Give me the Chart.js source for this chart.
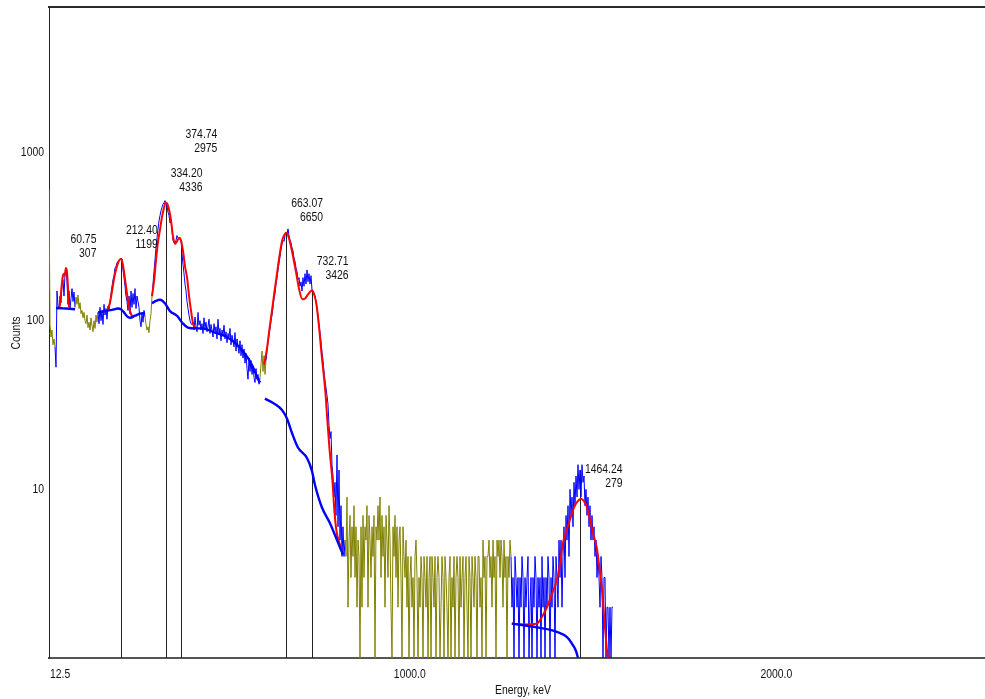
<!DOCTYPE html>
<html>
<head>
<meta charset="utf-8">
<title>Gamma spectrum</title>
<script src="https://cdn.jsdelivr.net/npm/chart.js@4.4.1/dist/chart.umd.min.js"></script>
<style>
  html, body { margin: 0; padding: 0; background: #ffffff; }
  #wrap { width: 985px; height: 699px; }
</style>
</head>
<body>
<div id="wrap"><canvas id="spectrum" width="985" height="699"></canvas></div>
<script>
// ---- energy calibration of the channel list ----
const FIRST_KEV = 16;
const KEV_PER_CH = 2.7276;

// ---- counts per channel, starting at FIRST_KEV ----
const counts = [
  600, 95, 80, 88, 72, 78, 70, 53, 150, 122,
  118, 140, 128, 165, 175, 140, 190, 205, 170, 125,
  150, 118, 135, 155, 130, 148, 120, 138, 125, 142,
  118, 128, 110, 115, 104, 112, 100, 96, 108, 91,
  98, 88, 104, 93, 86, 100, 90, 108, 98, 112,
  96, 120, 100, 115, 95, 125, 108, 118, 102, 122,
  115, 130, 145, 160, 175, 185, 205, 210, 220, 225,
  225, 230, 235, 232, 200, 180, 160, 140, 130, 115,
  140, 110, 150, 120, 145, 125, 155, 118, 140, 130,
  120, 100, 92, 110, 98, 115, 105, 95, 88, 92,
  85, 100, 110, 140, 165, 195, 230, 270, 310, 350,
  390, 420, 450, 470, 490, 500, 515, 500, 480, 440,
  420, 380, 400, 340, 300, 290, 285, 300, 320, 310,
  305, 305, 300, 250, 215, 190, 165, 150, 130, 118,
  108, 100, 96, 95, 98, 88, 105, 92, 86, 112,
  94, 100, 88, 96, 84, 104, 90, 98, 86, 92,
  102, 84, 95, 88, 80, 96, 86, 92, 78, 102,
  84, 90, 76, 88, 82, 94, 78, 86, 74, 84,
  80, 90, 72, 82, 76, 70, 85, 66, 78, 70,
  64, 76, 62, 72, 60, 68, 56, 64, 52, 45,
  60, 50, 58, 48, 54, 46, 43, 52, 45, 48,
  42, 46, 55, 66, 50, 62, 48, 58, 66, 75,
  82, 90, 100, 108, 120, 135, 145, 165, 180, 200,
  220, 240, 265, 285, 300, 295, 320, 335, 325, 350,
  320, 300, 290, 270, 260, 235, 225, 205, 195, 175,
  180, 160, 170, 150, 180, 160, 190, 165, 200, 170,
  190, 165, 185, 152, 150, 145, 140, 130, 118, 108,
  95, 85, 75, 65, 58, 50, 44, 40, 36, 32,
  24, 20, 22, 14, 12, 9, 11, 7, 16, 6,
  13, 5, 8, 4, 6, 4, 5, 4, 9, 2,
  5, 7, 3, 6, 4, 8, 3, 6, 2, 5,
  4, 1, 6, 2, 7, 3, 6, 5, 8, 2,
  7, 5, 3, 6, 4, 7, 1, 6, 5, 8,
  5, 9, 3, 7, 4, 6, 2, 7, 5, 3,
  8, 5, 2, 1, 6, 4, 7, 3, 6, 2,
  5, 6, 3, 1, 6, 4, 3, 5, 2, 4,
  1, 3, 4, 2, 3, 1, 4, 5, 3, 1,
  3, 2, 4, 3, 1, 4, 3, 2, 4, 1,
  3, 4, 1, 4, 3, 2, 4, 1, 3, 4,
  3, 1, 2, 4, 3, 1, 4, 3, 2, 1,
  3, 4, 1, 3, 2, 4, 1, 3, 4, 3,
  1, 4, 2, 3, 4, 1, 3, 4, 2, 1,
  4, 3, 1, 4, 3, 2, 4, 3, 1, 4,
  4, 2, 3, 1, 5, 3, 4, 1, 4, 4,
  5, 3, 4, 2, 5, 3, 4, 1, 5, 4,
  5, 3, 5, 4, 2, 5, 3, 4, 1, 4,
  3, 5,
  4, 2, 3, 1, 4, 3, 2, 3, 1, 3,
  2, 4, 3, 1, 3, 2, 3, 4, 1, 2,
  3, 1, 3, 2, 4, 3, 1, 3, 2, 3,
  1, 4, 2, 3, 1, 3, 2, 4, 3, 1,
  3, 2, 4, 3, 1, 4, 3, 2, 5, 3,
  5, 2, 4, 6, 3, 7, 5, 8, 4, 10,
  7, 9, 6, 11, 8, 12, 9, 14, 10, 13,
  9, 14, 11, 12, 8, 10, 7, 9, 6, 8,
  5, 7, 5, 6, 4, 5, 3, 4, 3, 2,
  4, 3, 1, 3, 3, 1, 2, 2, 1, 2,
  1, 2, 2
];

// ---- regions of interest (keV) drawn in blue ----
const roiStart = [32, 149, 296, 607, 1276];
const roiEnd   = [87, 278, 592, 824, 1556];

// ---- fitted peak shapes (keV, counts) ----
const fit1Kev = [37, 43, 46, 48, 51, 54, 57, 59, 62, 65, 68, 70, 73];
const fit1Cnt = [118, 119, 125, 140, 165, 185, 190, 185, 205, 195, 155, 125, 119];
const fit2Kev = [167, 175, 183, 189, 194, 200, 206, 212, 217, 222, 227, 232, 238, 243];
const fit2Cnt = [114, 116, 130, 155, 180, 205, 225, 232, 218, 185, 155, 128, 112, 106];
const fit3Kev = [297, 303, 308, 313, 319, 324, 330, 334, 338, 344, 349, 354, 360, 365, 371, 376, 382, 387, 393, 398, 404, 409, 415, 420];
const fit3Cnt = [140, 175, 230, 290, 350, 410, 470, 500, 495, 450, 390, 318, 285, 295, 310, 300, 255, 210, 177, 140, 112, 96, 91, 90];
const fit4Kev = [603, 611.2, 616.7, 624.9, 630.4, 638.6, 644, 652.2, 657.7, 663.2, 668.7, 676.9, 685.1, 690.5, 698.7, 706.9, 715.1, 723.3, 728.8, 734.3, 739.7, 745.2, 753.4, 758.9, 764.4, 769.8, 775.3, 780.8, 789, 794.4, 799.9, 808.1, 816.3];
const fit4Cnt = [55, 70, 87, 118, 145, 195, 237, 300, 322, 332, 318, 270, 220, 190, 152, 134, 136, 144, 149, 151, 142, 126, 88, 65, 50, 38, 25.6, 17.7, 11.3, 7.5, 5.7, 4.8, 4.2];
const fit5Kev = [1278.4, 1313.9, 1346.7, 1360.4, 1374.1, 1387.8, 1401.4, 1409.6, 1417.8, 1428.8, 1437, 1447.9, 1456.1, 1467.1, 1475.3, 1483.5, 1491.7, 1499.9, 1510.8, 1519, 1524.5, 1532.7, 1538.2, 1540.9];
const fit5Cnt = [1.6, 1.58, 1.6, 1.75, 2, 2.4, 2.9, 3.6, 4.8, 5.8, 6.6, 7.8, 8.4, 8.8, 8.5, 7.8, 6.6, 5.5, 4.4, 3.2, 2.5, 1.5, 1.1, 1];

// ---- continuum under each region (keV, counts) ----
const base1Kev = [35, 48, 63, 87];
const base1Cnt = [119, 118.5, 118, 117];
const base2Kev = [150, 169, 188, 204, 212, 220.5, 229, 237, 250.5, 264, 278];
const base2Cnt = [112, 114, 116, 118, 117, 112, 106, 104, 107, 110, 111];
const base3Kev = [297, 308, 319, 332, 346, 365, 381.5, 395, 414, 433, 469, 501.5, 531.5, 559, 572.5, 586, 591.6];
const base3Cnt = [127, 131, 133, 127, 114, 107, 96, 91, 90, 90, 85, 80, 71, 60, 53, 45, 43];
const base4Kev = [605, 632.5, 651.5, 665, 679, 695, 720, 733, 741.5, 760.5, 782.5, 801.5, 818];
const base4Cnt = [34.5, 32, 29.5, 26.3, 21.5, 17.7, 15.3, 12.9, 10.6, 7.8, 6.3, 5, 4.1];
const base5Kev = [1278.4, 1346.7, 1401.4, 1428.8, 1445.2, 1453.4, 1458.9];
const base5Cnt = [1.6, 1.52, 1.43, 1.33, 1.19, 1.1, 1.0];

// ---- identified peaks ----
const peakKev    = [60.75, 212.40, 334.20, 374.74, 663.07, 732.71, 1464.24];
const peakArea   = [307, 1199, 4336, 2975, 6650, 3426, 279];
const peakHeight = [205, 232, 500, 310, 332, 151, 8.8];
const peakMarker = [false, true, true, true, true, true, true];
const labelRow   = [0, 0, 0, 1, 0, 0, 0];

// ---- axes ----
const X_MIN = 16, X_MAX = 2569;
const Y_MIN = 1, Y_MAX = 7145;
const xTickValues = [12.5, 1000, 2000];
const xTickLabels = ['12.5', '1000.0', '2000.0'];
const yTickValues = [10, 100, 1000];
const yTickLabels = ['10', '100', '1000'];
const X_TITLE = 'Energy, keV';
const Y_TITLE = 'Counts';

const OLIVE = '#808000', BLUE = '#0000ff', RED = '#ff0000', INK = '#111111';
const FONT = '13px "Liberation Sans", Arial, sans-serif';
const SQUEEZE = 0.8;   // horizontal squeeze for the narrow lettering

const toPoints = (ks, cs) => ks.map((k, i) => ({ x: k, y: cs[i] }));
const inRoi = e => roiStart.some((s, k) => e >= s && e <= roiEnd[k]);
const channelOf = e => Math.round((e - FIRST_KEV) / KEV_PER_CH);

const spectrumPoints = counts.map((c, i) => ({ x: FIRST_KEV + i * KEV_PER_CH, y: c }));

const fitStyle = { borderColor: RED, borderWidth: 2, pointRadius: 0, cubicInterpolationMode: 'monotone', order: 2 };
const baseStyle = { borderColor: BLUE, borderWidth: 2.4, pointRadius: 0, cubicInterpolationMode: 'monotone', order: 1 };

const datasets = [
  {
    label: 'spectrum',
    data: spectrumPoints,
    borderColor: OLIVE,
    borderWidth: 1,
    pointRadius: 0,
    order: 3,
    segment: {
      borderColor: c => (inRoi(c.p0.parsed.x) && inRoi(c.p1.parsed.x)) ? BLUE : OLIVE
    }
  },
  Object.assign({ label: 'fit1', data: toPoints(fit1Kev, fit1Cnt) }, fitStyle),
  Object.assign({ label: 'fit2', data: toPoints(fit2Kev, fit2Cnt) }, fitStyle),
  Object.assign({ label: 'fit3', data: toPoints(fit3Kev, fit3Cnt) }, fitStyle),
  Object.assign({ label: 'fit4', data: toPoints(fit4Kev, fit4Cnt) }, fitStyle),
  Object.assign({ label: 'fit5', data: toPoints(fit5Kev, fit5Cnt) }, fitStyle),
  Object.assign({ label: 'base1', data: toPoints(base1Kev, base1Cnt) }, baseStyle),
  Object.assign({ label: 'base2', data: toPoints(base2Kev, base2Cnt) }, baseStyle),
  Object.assign({ label: 'base3', data: toPoints(base3Kev, base3Cnt) }, baseStyle),
  Object.assign({ label: 'base4', data: toPoints(base4Kev, base4Cnt) }, baseStyle),
  Object.assign({ label: 'base5', data: toPoints(base5Kev, base5Cnt) }, baseStyle)
];

// narrow text: squeezed horizontally along its own direction
function squeezedText(ctx, text, x, y, align, angle) {
  ctx.save();
  ctx.translate(x, y);
  if (angle) ctx.rotate(angle);
  ctx.scale(SQUEEZE, 1);
  ctx.textAlign = align;
  ctx.fillText(text, 0, 0);
  ctx.restore();
}
function squeezedWidth(ctx, text) {
  return ctx.measureText(text).width * SQUEEZE;
}

// peak marker lines, peak labels, axis lettering and the top frame edge
const spectrumDecor = {
  id: 'spectrumDecor',
  beforeDatasetsDraw(chart) {
    const { ctx, chartArea, scales: { x, y } } = chart;
    ctx.save();
    ctx.strokeStyle = '#222222';
    ctx.lineWidth = 1;
    peakKev.forEach((e, i) => {
      if (!peakMarker[i]) return;
      const px = Math.round(x.getPixelForValue(e)) + 0.5;
      ctx.beginPath();
      ctx.moveTo(px, chartArea.bottom);
      ctx.lineTo(px, y.getPixelForValue(counts[channelOf(e)]));
      ctx.stroke();
    });
    ctx.restore();
  },
  afterDatasetsDraw(chart) {
    const { ctx, scales: { x, y } } = chart;
    ctx.save();
    ctx.font = FONT;
    ctx.fillStyle = INK;
    ctx.textBaseline = 'middle';
    let prevY = 0;
    peakKev.forEach((e, i) => {
      const top = labelRow[i] ? prevY - 39 : y.getPixelForValue(peakHeight[i]) - 29;
      const line1 = e.toFixed(2);
      const right = x.getPixelForValue(e) + 5 + squeezedWidth(ctx, line1);
      squeezedText(ctx, line1, right, top, 'right');
      squeezedText(ctx, String(peakArea[i]), right, top + 14, 'right');
      prevY = top;
    });
    ctx.restore();
  },
  afterDraw(chart) {
    const { ctx, chartArea, scales: { x, y } } = chart;
    ctx.save();
    // top edge of the frame
    ctx.strokeStyle = '#2a2a2a';
    ctx.lineWidth = 2;
    ctx.beginPath();
    ctx.moveTo(chartArea.left - 1, chartArea.top - 1);
    ctx.lineTo(chartArea.right, chartArea.top - 1);
    ctx.stroke();
    // tick labels and axis titles
    ctx.font = FONT;
    ctx.fillStyle = INK;
    ctx.textBaseline = 'middle';
    xTickValues.forEach((v, i) => {
      const px = Math.max(x.getPixelForValue(v), chartArea.left);
      squeezedText(ctx, xTickLabels[i], i === 0 ? px + 1 : px, chartArea.bottom + 16, i === 0 ? 'left' : 'center');
    });
    yTickValues.forEach((v, i) => {
      squeezedText(ctx, yTickLabels[i], chartArea.left - 5, y.getPixelForValue(v), 'right');
    });
    squeezedText(ctx, X_TITLE, (chartArea.left + chartArea.right) / 2 + 6, chartArea.bottom + 32, 'center');
    squeezedText(ctx, Y_TITLE, 16, (chartArea.top + chartArea.bottom) / 2, 'center', -Math.PI / 2);
    ctx.restore();
  }
};

new Chart(document.getElementById('spectrum'), {
  type: 'line',
  data: { datasets },
  options: {
    responsive: false,
    animation: false,
    events: [],
    layout: { padding: { top: 8, right: 0, bottom: 0, left: 0 } },
    plugins: { legend: { display: false }, tooltip: { enabled: false } },
    scales: {
      x: {
        type: 'linear',
        min: X_MIN,
        max: X_MAX,
        grid: { display: false, drawTicks: false },
        border: { display: true, color: '#555555', width: 2 },
        ticks: { display: false },
        afterFit: s => { s.height = 41; s.paddingLeft = 0; s.paddingRight = 0; }
      },
      y: {
        type: 'logarithmic',
        min: Y_MIN,
        max: Y_MAX,
        grid: { display: false, drawTicks: false },
        border: { display: true, color: '#222222', width: 1 },
        ticks: { display: false },
        afterFit: s => { s.width = 49; s.paddingTop = 0; s.paddingBottom = 0; }
      }
    }
  },
  plugins: [spectrumDecor]
});
</script>
</body>
</html>
